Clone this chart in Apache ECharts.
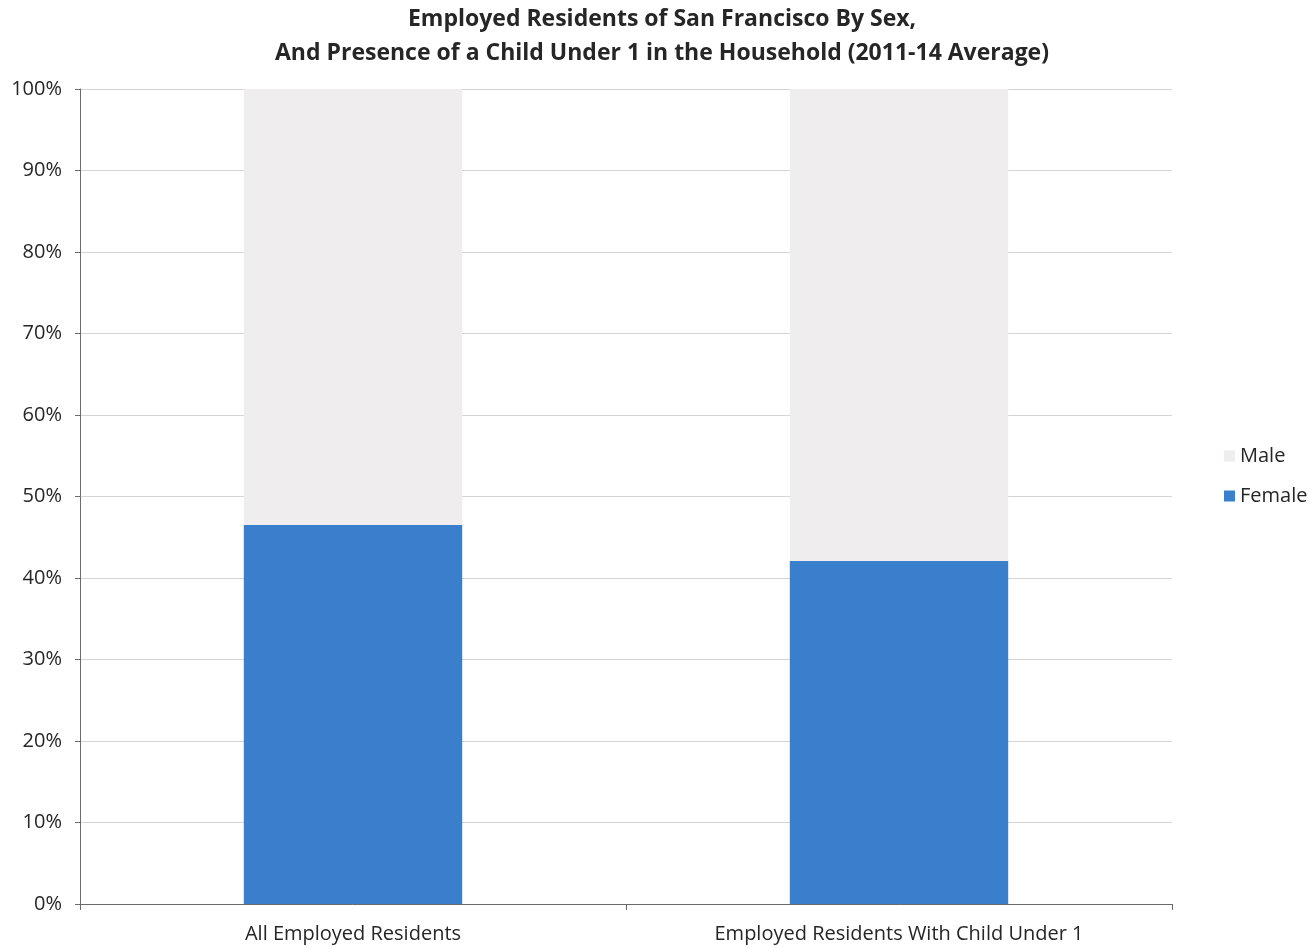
<!DOCTYPE html>
<html><head><meta charset="utf-8">
<script src="https://cdn.jsdelivr.net/npm/echarts@6/dist/echarts.min.js"></script>
<style>html,body{margin:0;padding:0;background:#fff}#c{width:1310px;height:948px}</style>
</head><body><div id="c"></div>
<script>
const categories = ['All Employed Residents', 'Employed Residents With Child Under 1'];
const female = [46.5, 42.1];
const male = [53.5, 57.9];
const titleLines = ['Employed Residents of San Francisco By Sex,', 'And Presence of a Child Under 1 in the Household (2011-14 Average)'];

const chart = echarts.init(document.getElementById('c'), null, {renderer: 'canvas'});
const font = '"Open Sans", "Liberation Sans", sans-serif';
chart.setOption({
  animation: false,
  backgroundColor: '#fff',
  title: {
    text: titleLines.join('\n'),
    left: 657, top: -3, textAlign: 'center',
    textStyle: {fontFamily: font, fontSize: 23, fontWeight: 'bold', color: '#262626', lineHeight: 34}
  },
  legend: {
    orient: 'vertical', left: 1219, top: 441,
    data: ['Male', 'Female'],
    icon: 'rect', itemWidth: 11, itemHeight: 11, itemGap: 20,
    textStyle: {fontFamily: font, fontSize: 20, color: '#262626', padding: [0,0,0,0]}
  },
  grid: {left: 80, right: 138, top: 89, bottom: 44, containLabel: false},
  xAxis: {
    type: 'category', data: categories,
    axisLine: {lineStyle: {color: '#6b6b6b', width: 1}},
    axisTick: {show: true, length: 6, lineStyle: {color: '#6b6b6b'}},
    axisLabel: {fontFamily: font, fontSize: 20, color: '#262626', margin: 20}
  },
  yAxis: {
    type: 'value', min: 0, max: 100, interval: 10,
    axisLine: {show: true, lineStyle: {color: '#6b6b6b', width: 1}},
    axisTick: {show: true, length: 5, lineStyle: {color: '#6b6b6b'}},
    axisLabel: {formatter: '{value}%', fontFamily: font, fontSize: 20, color: '#262626', margin: 18},
    splitLine: {lineStyle: {color: '#d4d4d4', width: 1}}
  },
  series: [
    {name: 'Female', type: 'bar', stack: 's', data: female, barWidth: '40%',
     itemStyle: {color: '#3a7fcc'}},
    {name: 'Male', type: 'bar', stack: 's', data: male, barWidth: '40%',
     itemStyle: {color: '#efeded'}}
  ]
});
</script></body></html>
